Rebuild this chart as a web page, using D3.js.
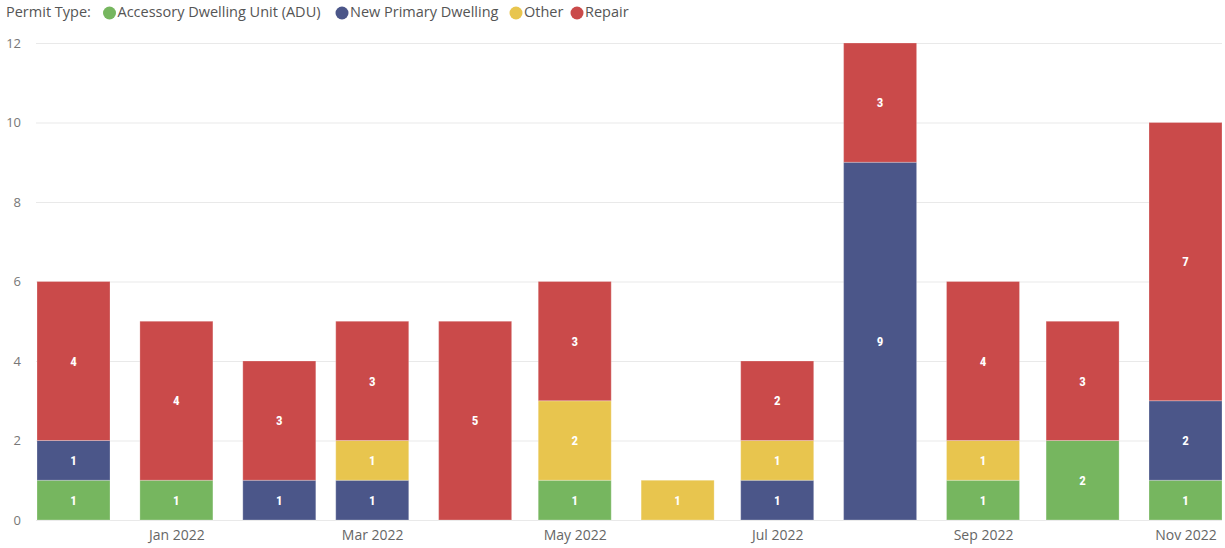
<!DOCTYPE html>
<html>
<head>
<meta charset="utf-8">
<script src="https://cdn.jsdelivr.net/npm/d3@7"></script>
<style>
  html, body { margin: 0; padding: 0; background: #fff; }
  svg { display: block; font-family: "Open Sans", "Noto Sans", sans-serif; }
</style>
</head>
<body>
<svg id="chart" width="1225" height="548"></svg>
<script>
// ---- data ----
const months = ["2021-12", "2022-01", "2022-02", "2022-03", "2022-04", "2022-05",
                "2022-06", "2022-07", "2022-08", "2022-09", "2022-10", "2022-11"];
const seriesNames = ["Accessory Dwelling Unit (ADU)", "New Primary Dwelling", "Other", "Repair"];
const adu    = [1, 1, 0, 0, 0, 1, 0, 0, 0, 1, 2, 1];
const newPD  = [1, 0, 1, 1, 0, 0, 0, 1, 9, 0, 0, 2];
const other  = [0, 0, 0, 1, 0, 2, 1, 1, 0, 1, 0, 0];
const repair = [4, 4, 3, 3, 5, 3, 0, 2, 3, 4, 3, 7];
const yTicks = [0, 2, 4, 6, 8, 10, 12];
const xTickMonths = ["2022-01", "2022-03", "2022-05", "2022-07", "2022-09", "2022-11"];
const colors = ["#76B65F", "#4B5689", "#E8C54E", "#CA4A4A"];

// ---- build ----
const parse = d3.timeParse("%Y-%m");
const table = months.map((m, i) => ({
  date: parse(m),
  "Accessory Dwelling Unit (ADU)": adu[i],
  "New Primary Dwelling": newPD[i],
  "Other": other[i],
  "Repair": repair[i]
}));
const stack = d3.stack().keys(seriesNames)(table);

const svg = d3.select("#chart");
const plotTop = 43, plotBottom = 520, plotLeft = 36, plotRight = 1222;

const x = d3.scaleTime()
  .domain([parse("2021-12"), parse("2022-11")])
  .range([73.5, 1185.5]);
const barW = 73;
const y = d3.scaleLinear().domain([0, 12]).range([plotBottom, plotTop]);

// gridlines
svg.append("g")
  .selectAll("line").data(yTicks).join("line")
  .attr("x1", plotLeft).attr("x2", plotRight)
  .attr("y1", d => y(d) + 0.5).attr("y2", d => y(d) + 0.5)
  .attr("stroke", "#E9E9E9").attr("stroke-width", 1);

// y axis labels
const yAxis = d3.axisLeft(y).tickValues(yTicks).tickSize(0).tickPadding(0);
const gy = svg.append("g").attr("transform", "translate(21,0)").call(yAxis);
gy.select(".domain").remove();
gy.selectAll("text").attr("fill", "#777").style("font-size", "13px")
  .style("font-family", "'Open Sans', sans-serif");

// x axis
const xAxis = d3.axisBottom(x).tickValues(xTickMonths.map(parse))
  .tickFormat(d3.timeFormat("%b %Y")).tickSize(0).tickPadding(0);
const gx = svg.append("g").attr("transform", "translate(0,527)").call(xAxis);
gx.select(".domain").remove();
gx.selectAll("text").attr("fill", "#666").style("font-size", "14px")
  .attr("dy", "0.95em")
  .style("font-family", "'Open Sans', sans-serif");

// bars
const layers = svg.append("g").selectAll("g").data(stack).join("g")
  .attr("fill", (d, i) => colors[i]);
layers.selectAll("rect").data(d => d.filter(s => s[1] - s[0] > 0)).join("rect")
  .attr("x", d => x(d.data.date) - barW / 2)
  .attr("width", barW)
  .attr("y", d => y(d[1]))
  .attr("height", d => y(d[0]) - y(d[1]))
  .attr("stroke", "rgba(255,255,255,0.25)")
  .attr("stroke-width", 1);

// labels
const lbl = svg.append("g");
stack.forEach(layer => {
  layer.filter(s => s[1] - s[0] > 0).forEach(s => {
    lbl.append("text")
      .attr("x", x(s.data.date))
      .attr("y", (y(s[0]) + y(s[1])) / 2)
      .attr("dy", "0.36em")
      .attr("text-anchor", "middle")
      .attr("fill", "#fff")
      .style("font-family", "'Roboto Condensed', 'DejaVu Sans Condensed', Roboto, sans-serif")
      .style("font-weight", "bold")
      .style("font-size", "13px")
      .text(s[1] - s[0]);
  });
});

// legend
const leg = svg.append("g").style("font-family", "'Open Sans', sans-serif").style("font-size", "14.5px");
leg.append("text").attr("x", 6).attr("y", 17).attr("fill", "#555").text("Permit Type:");
const legCx = [109.5, 342, 516, 577];
seriesNames.forEach((n, i) => {
  leg.append("circle").attr("cx", legCx[i]).attr("cy", 13).attr("r", 6.5).attr("fill", colors[i]);
  leg.append("text").attr("x", legCx[i] + 8).attr("y", 17).attr("fill", "#555").text(n);
});
</script>
</body>
</html>
